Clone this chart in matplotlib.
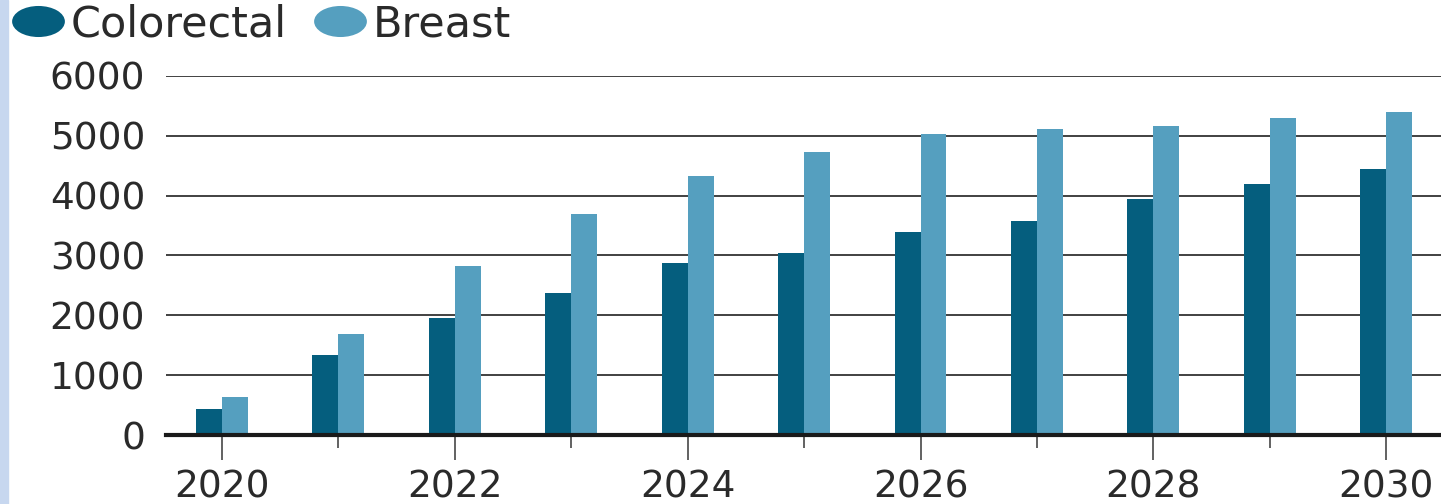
import matplotlib.pyplot as plt
from matplotlib.patches import Rectangle
from matplotlib.path import Path
from matplotlib.transforms import Affine2D
from matplotlib.lines import Line2D
import numpy as np

# data
years = [2020, 2021, 2022, 2023, 2024, 2025, 2026, 2027, 2028, 2029, 2030]
colorectal = [440, 1340, 1960, 2380, 2880, 3050, 3400, 3580, 3950, 4200, 4450]
breast = [640, 1680, 2830, 3700, 4330, 4730, 5030, 5120, 5170, 5300, 5390]

dark = '#055e7e'
light = '#559fbf'

plt.rcParams['font.family'] = 'DejaVu Sans'

fig = plt.figure(figsize=(14.41, 5.04), dpi=100)
ax = fig.add_axes([166 / 1441, 69 / 504, 1 - 166 / 1441, 359 / 504])

x = np.array(years)
w = 0.223
ax.bar(x - w / 2, colorectal, width=w, color=dark, zorder=3)
ax.bar(x + w / 2, breast, width=w, color=light, zorder=3)

ax.set_xlim(2019.52, 2030.47)
ax.set_ylim(0, 6000)
ax.set_yticks(range(0, 6001, 1000))
ax.set_xticks(range(2020, 2031, 2))
ax.set_xticks(range(2021, 2030, 2), minor=True)

ax.grid(axis='y', color='#333333', linewidth=1.3, zorder=1)
ax.axhline(0, color='#1a1a1a', linewidth=3.0, zorder=4, clip_on=False)
for s in ax.spines.values():
    s.set_visible(False)

ax.tick_params(axis='y', length=0, pad=15, labelsize=27, labelcolor='#2a2a2a')
ax.tick_params(axis='x', which='major', length=18, width=1.3, color='#555555',
               pad=7, labelsize=27, labelcolor='#2a2a2a')
ax.tick_params(axis='x', which='minor', length=9, width=1.3, color='#555555')

# legend with oval markers
oval = Path.unit_circle().transformed(Affine2D().scale(1.7, 1.0))
handles = [Line2D([], [], linestyle='none', marker=oval, markersize=38,
                  color=c, markeredgewidth=0) for c in (dark, light)]
fig.legend(handles, ['Colorectal', 'Breast'], loc='upper left',
           bbox_to_anchor=(-0.014, 1.045), ncol=2, frameon=False,
           handlelength=1.5, handletextpad=0.0, columnspacing=0.5,
           fontsize=31, labelcolor='#2a2a2a', borderaxespad=0.2)

# thin light-blue strip on the left edge
fig.patches.append(Rectangle((0, 0), 8 / 1441, 1, transform=fig.transFigure,
                             color='#c7d7ef', zorder=0))

fig.savefig('out.png', dpi=100)
